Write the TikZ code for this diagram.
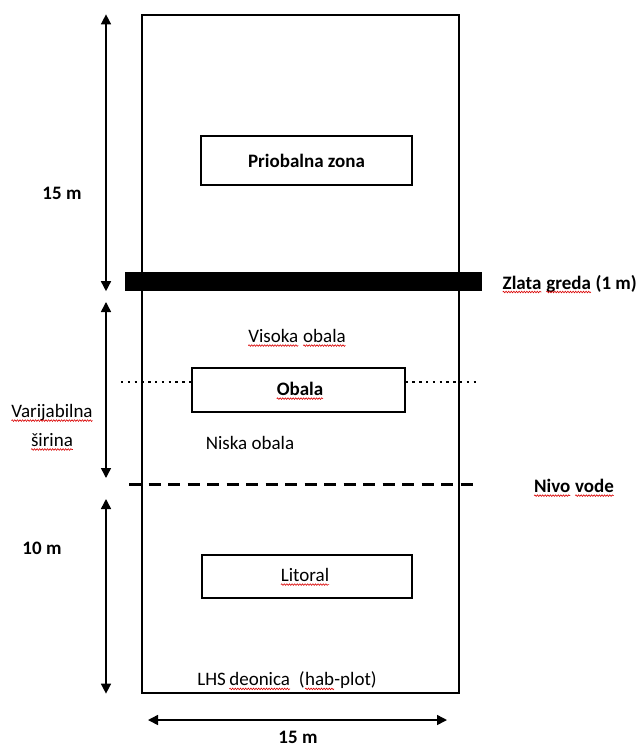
\documentclass[tikz,border=0pt]{standalone}
\usepackage{fontspec}
\setmainfont{Carlito}
\usetikzlibrary{arrows.meta,decorations.pathmorphing}

% red wavy line under the words that the spell checker marked
\newcommand\spellmark[1]{\tikz[baseline=(sw.base), x=1pt, y=1pt]{%
  \node[inner sep=0pt, outer sep=0pt] (sw) {#1};
  \draw[red!85!black, line width=0.6pt, decorate,
        decoration={snake, amplitude=0.8pt, segment length=2.6pt}]
    ([yshift=-3pt]sw.base west) -- ([yshift=-3pt]sw.base east);}}

\tikzset{
  zonebox/.style={draw, line width=1.3pt, inner sep=0pt},
  dimarrow/.style={line width=1.5pt, {Triangle[width=10pt,length=10pt]}-{Triangle[width=10pt,length=10pt]}},
  lbl/.style={inner sep=0pt, font=\fontsize{19}{22}\selectfont},
  boldlbl/.style={lbl, font=\fontsize{19}{22}\selectfont\bfseries}
}

\begin{document}
\begin{tikzpicture}[x=1pt, y=-1pt]

  \useasboundingbox (0,0) rectangle (639,747);

  % --- plot and its zones ---
  \node[zonebox, minimum width=317pt, minimum height=678pt] (plot) at (300.5,354) {};
  \node[zonebox, minimum width=211pt, minimum height=49pt] (priobalna) at (306.5,160.5) {};
  \node[boldlbl] at (priobalna) {Priobalna zona};
  \node[fill=black, inner sep=0pt, minimum width=357pt, minimum height=19pt] (greda) at (303.5,281.5) {};
  \node[boldlbl, anchor=east] (gredalbl) at (637,284) {\spellmark{Zlata} \spellmark{greda} (1 m)};

  \node[lbl] (visoka) at (297,338) {\spellmark{Visoka} \spellmark{obala}};
  \node[zonebox, minimum width=213pt, minimum height=44pt] (obala) at (298.5,390) {};
  \node[boldlbl] at (300,391) {\spellmark{Obala}};
  \node[lbl] (niska) at (250,443) {Niska obala};

  % --- dotted line through Obala, dashed water level ---
  \coordinate (dotL) at (121,382);
  \coordinate (dotR) at (476,382);
  \draw[line width=2.4pt, dash pattern=on 2.4pt off 4.4pt] (dotL) -- (dotL -| obala.west);
  \draw[line width=2.4pt, dash pattern=on 2.4pt off 4.4pt] (dotR -| obala.east) -- (dotR);
  \coordinate (vodaL) at (129,484);
  \coordinate (vodaR) at (473,484);
  \draw[line width=3pt, dash pattern=on 12pt off 7.5pt] (vodaL) -- (vodaR);
  \node[boldlbl] (vodalbl) at (574,488) {\spellmark{Nivo} \spellmark{vode}};

  \node[zonebox, minimum width=210pt, minimum height=43pt] (litoral) at (307,576.5) {};
  \node[lbl] at (305,577) {\spellmark{Litoral}};
  \node[lbl] (lhs) at (287,681) {LHS\,\spellmark{deonica}\ \ (\spellmark{hab}-plot)};

  % --- dimensions on the left ---
  \coordinate (dim) at (106,0);
  \draw[dimarrow] (dim |- plot.north) -- (dim |- greda.south);
  \node[boldlbl] (m15) at (62,193) {15 m};

  \coordinate (var1) at (106,302);
  \coordinate (var2) at (106,478);
  \draw[dimarrow] (var1) -- (var2);
  \node[lbl] (varij) at (52,413) {\spellmark{Varijabilna}};
  \node[lbl] (sirina) at (52,442) {\spellmark{širina}};

  \coordinate (lit1) at (106,499);
  \draw[dimarrow] (lit1) -- (dim |- plot.south);
  \node[boldlbl] (m10) at (42,548) {10 m};

  % --- width of the plot ---
  \coordinate (sirL) at (148,720);
  \coordinate (sirR) at (447,720);
  \draw[dimarrow] (sirL) -- (sirR);
  \node[boldlbl] (m15b) at (298,737) {15 m};

\end{tikzpicture}
\end{document}
